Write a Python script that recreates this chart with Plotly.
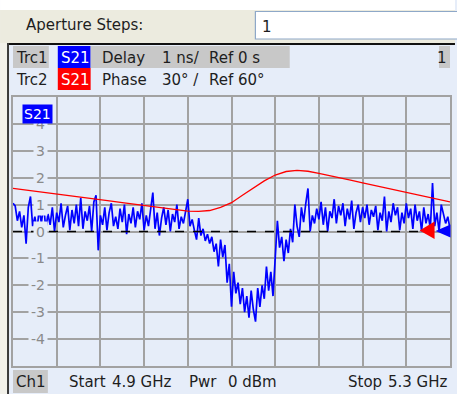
import numpy as np
import plotly.graph_objects as go

# Sweep settings
START_GHZ = 4.9
STOP_GHZ = 5.3

# Trc1: S21 group delay in ns (1 ns/div, ref 0 s), one value per sweep point
delay_ns = [
    1.05, 0.95, 0.4, 0.75, 0.15, 0.6, -0.45, 0.9, 1.3, 0.2,
    0.55, 0.05, 0.85, 0.3, 1.0, 0.1, 0.65, 0.25, 0.9, 0.0,
    0.7, 0.35, 1.05, 0.15, 0.6, 0.95, 0.05, 0.8, 0.3, 1.0,
    0.2, 1.25, 0.1, 0.75, 0.4, 0.95, 0.0, 1.1, 1.35, -0.7,
    0.6, 0.25, 0.9, 0.05, 0.7, 1.05, 0.2, 0.55, 0.1, 0.85,
    0.35, 1.0, -0.1, 0.65, 0.3, 0.9, 0.15, 0.75, 0.45, 1.05,
    0.05, 0.6, 0.2, 0.85, 1.45, 0.1, 0.7, -0.15, 0.5, 0.9,
    0.25, 0.8, 0.0, 0.65, 0.35, 1.0, 0.1, 0.55, 0.3, 0.75,
    1.2, 0.2, 0.45, 0.05, -0.3, 0.5, -0.15, 0.1, -0.35, -0.1,
    -0.45, -0.2, -0.75, -0.45, -1.3, -0.3, -0.95, -0.5, -1.9, -1.2,
    -2.8, -1.5, -2.3, -1.9, -2.7, -2.1, -3.0, -2.4, -3.2, -2.2,
    -2.9, -3.35, -2.1, -2.8, -2.0, -2.5, -1.3, -2.2, -1.5, -2.4,
    -0.9, 0.4, -0.6, -0.2, -1.1, -0.3, -0.8, 0.1, -0.4, 1.0,
    0.2, -0.2, 0.9, 0.35, 1.05, 1.6, 0.0, 0.6, 0.3, 0.85,
    0.45, 1.1, 0.25, 0.9, 0.0, 0.75, 0.5, 1.2, 0.3, 0.95,
    0.6, 1.05, 0.2, 0.85, 0.45, 1.15, 0.1, 0.7, 1.0, 0.35,
    0.9, 0.5, 1.0, 0.25, 0.8, 0.55, 0.95, 0.05, 0.7, 0.4,
    1.3, 0.0, 0.75, 0.35, 1.05, 0.6, 0.9, 0.05, 0.7, 0.3,
    1.05, 0.5, 0.85, 0.1, 1.0, 0.4, 0.75, 0.0, 0.9, 0.3,
    0.65, 0.1, 1.8, 0.2, 0.7, 0.0, 1.0, 0.6, 0.3, 0.55,
    0.1,
]

# Trc2: S21 phase in degrees (30 deg/div, ref 60 deg), every 10 MHz
phase_deg = [
    108.0, 106.5, 105.0, 103.5, 102.0, 100.5, 99.0, 97.5, 95.7, 93.9,
    92.1, 90.6, 89.1, 87.6, 85.8, 84.0, 82.8, 82.5, 83.4, 87.0,
    92.1, 100.5, 108.6, 116.4, 123.0, 126.9, 128.1, 127.2, 124.8, 122.4,
    119.4, 117.0, 114.3, 111.6, 109.2, 106.5, 103.8, 101.1, 98.4, 95.7,
    93.0,
]

# Scale settings of the two traces
DELAY_REF, DELAY_DIV = 0.0, 1.0
PHASE_REF, PHASE_DIV = 60.0, 30.0
N_DIV = 10
delay_tick_labels = ["4", "3", "2", "1", "0", "-1", "-2", "-3", "-4"]
delay_tick_values = [4, 3, 2, 1, 0, -1, -2, -3, -4]

freq_delay = np.linspace(START_GHZ, STOP_GHZ, len(delay_ns))
freq_phase = np.linspace(START_GHZ, STOP_GHZ, len(phase_deg))

# Canvas geometry (pixels)
W_PX, H_PX = 457, 394
L, R, T, B = 13, 452, 97, 366
PW, PH = R - L, B - T


def px(x):
    return (x - L) / PW


def py(y):
    return (B - y) / PH


BG = "#e6edf9"
GRID = "#a2a2a2"
TXT = "#1e1e1e"
FONT = "DejaVu Sans, Verdana, sans-serif"

fig = go.Figure()

fig.add_trace(go.Scatter(
    x=freq_phase, y=phase_deg, mode="lines", yaxis="y2",
    line=dict(color="#ff0000", width=1.3), hoverinfo="skip",
))
fig.add_trace(go.Scatter(
    x=freq_delay, y=delay_ns, mode="lines",
    line=dict(color="#0000ff", width=1.7), hoverinfo="skip",
))

shapes = []
annotations = []


def rect(x0, y0, x1, y1, fill, line=None, lw=0, layer="above"):
    shapes.append(dict(
        type="rect", xref="paper", yref="paper",
        x0=px(x0), x1=px(x1), y0=py(y1), y1=py(y0),
        fillcolor=fill, line=dict(color=line or fill, width=lw), layer=layer,
    ))


def text(x, y, s, color=TXT, size=15, anchor="left", bg=None, pad=0):
    a = dict(
        xref="paper", yref="paper", x=px(x), y=py(y), text=s,
        showarrow=False, xanchor=anchor, yanchor="middle",
        font=dict(family=FONT, size=size, color=color),
    )
    if bg:
        a.update(bgcolor=bg, borderpad=pad)
    annotations.append(a)


# Toolbar strip with the aperture field
rect(0, 0, 457, 10, "#ffffff")
rect(0, 10, 457, 43, "#ecebdf")
rect(256.5, 11.5, 460, 39, "#ffffff", line="#8ea8c8", lw=1.2)
rect(0, 43, 7, 394, "#f2f1ea")
rect(7, 43, 457, 45, "#101010")
rect(7, 43, 9, 394, "#3a3a3a")
text(24, 25, "Aperture Steps:", size=15)
text(261, 27, "1", size=15)

# Trace info lines
rect(13, 46, 49, 68, "#c8c8c8")
rect(58, 46, 91, 68, "#0000ff")
rect(91, 46, 291, 68, "#c8c8c8")
rect(441, 46, 452, 68, "#c8c8c8")
rect(58, 68, 91, 90, "#ff0000")
text(14, 58, "Trc1")
text(59, 58, "S21", color="#ffffff")
text(100, 58, "Delay")
text(161, 58, "1 ns/")
text(208, 58, "Ref 0 s")
text(451, 58, "1", anchor="right")
text(14, 80, "Trc2")
text(59, 80, "S21", color="#ffffff")
text(100, 80, "Phase")
text(161, 80, "30° /")
text(208, 80, "Ref 60°")

# Channel info line
rect(13, 370, 48, 393, "#c8c8c8")
text(14, 382, "Ch1")
text(67, 382, "Start")
text(110, 382, "4.9 GHz")
text(188, 382, "Pwr")
text(227, 382, "0 dBm")
text(348, 382, "Stop")
text(452, 382, "5.3 GHz", anchor="right")

# Delay scale labels inside the diagram, masking the grid
for v, s in zip(delay_tick_values, delay_tick_labels):
    annotations.append(dict(
        xref="paper", yref="y", x=px(48), y=v, text=s, showarrow=False,
        xanchor="right", yanchor="middle", bgcolor=BG, borderpad=2,
        font=dict(family=FONT, size=14, color="#8a8a8a"),
    ))

# Trace label in the diagram
text(22.5, 113.5, "S21", color="#ffffff", size=14, bg="#0000ff", pad=1)

# Reference line and reference-position arrows
shapes.append(dict(
    type="line", xref="paper", yref="y", x0=0, x1=px(421), y0=DELAY_REF, y1=DELAY_REF,
    line=dict(color="#000000", width=1.5, dash="dash"), layer="above",
))
shapes.append(dict(
    type="path", xref="paper", yref="paper",
    path=f"M {px(421.5)} {py(230.5)} L {px(436.5)} {py(221.5)} L {px(436.5)} {py(239)} Z",
    fillcolor="#ff0000", line=dict(color="#ff0000", width=0), layer="above",
))
shapes.append(dict(
    type="path", xref="paper", yref="paper",
    path=f"M {px(437.5)} {py(231)} L {px(452.5)} {py(224.5)} L {px(452.5)} {py(237.5)} Z",
    fillcolor="#0000ff", line=dict(color="#0000ff", width=0), layer="above",
))

fig.update_layout(
    width=W_PX, height=H_PX, autosize=False,
    margin=dict(l=L, r=W_PX - R, t=T, b=H_PX - B, pad=0),
    paper_bgcolor=BG, plot_bgcolor=BG,
    showlegend=False,
    xaxis=dict(
        range=[START_GHZ, STOP_GHZ], dtick=(STOP_GHZ - START_GHZ) / N_DIV, tick0=START_GHZ,
        showgrid=True, gridcolor=GRID, gridwidth=1.6, showticklabels=False, ticks="",
        showline=True, linecolor=GRID, linewidth=1.6, mirror=True, zeroline=False,
        fixedrange=True,
    ),
    yaxis=dict(
        range=[DELAY_REF - 5 * DELAY_DIV, DELAY_REF + 5 * DELAY_DIV], dtick=DELAY_DIV,
        showgrid=True, gridcolor=GRID, gridwidth=1.6, showticklabels=False, ticks="",
        showline=True, linecolor=GRID, linewidth=1.6, mirror=True, zeroline=False,
        fixedrange=True,
    ),
    yaxis2=dict(
        range=[PHASE_REF - 5 * PHASE_DIV, PHASE_REF + 5 * PHASE_DIV],
        overlaying="y", visible=False, showgrid=False, zeroline=False, fixedrange=True,
    ),
    shapes=shapes,
    annotations=annotations,
)

fig.write_html("out.html", config=dict(displayModeBar=False))
